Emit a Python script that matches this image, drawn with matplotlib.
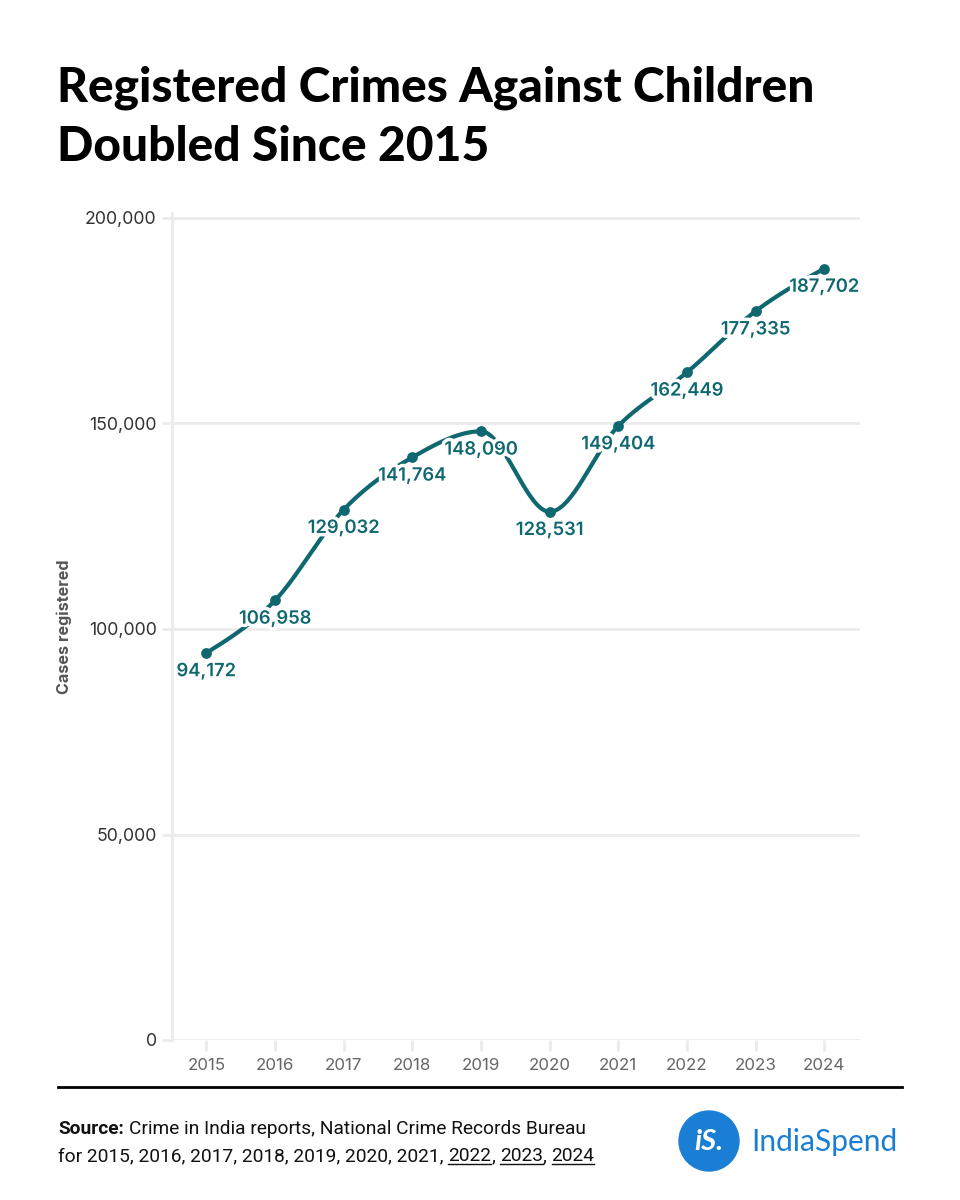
import numpy as np
import matplotlib
matplotlib.use("Agg")
import matplotlib.pyplot as plt
import matplotlib.patheffects as pe
from matplotlib.patches import Circle
from matplotlib.ticker import FuncFormatter

# data
years = [2015, 2016, 2017, 2018, 2019, 2020, 2021, 2022, 2023, 2024]
cases = [94172, 106958, 129032, 141764, 148090, 128531, 149404, 162449, 177335, 187702]
y_ticks = [0, 50000, 100000, 150000, 200000]

title_lines = ["Registered Crimes Against Children", "Doubled Since 2015"]
y_label = "Cases registered"
source_line1 = [("Source:", "bold", False), (" Crime in India reports, National Crime Records Bureau", "normal", False)]
source_line2 = [("for 2015, 2016, 2017, 2018, 2019, 2020, 2021, ", "normal", False),
                ("2022", "normal", True), (", ", "normal", False),
                ("2023", "normal", True), (", ", "normal", False),
                ("2024", "normal", True)]

TEAL = "#0f6870"
GRID = "#ebebeb"
BLUE = "#1a7fd4"


def monotone_curve(x, y, n=40):
    """monotone-x cubic (same idea as d3.curveMonotoneX) for drawing the line"""
    x = np.asarray(x, float)
    y = np.asarray(y, float)
    h = np.diff(x)
    s = np.diff(y) / h
    t = np.zeros_like(y)
    for i in range(1, len(y) - 1):
        p = (s[i - 1] * h[i] + s[i] * h[i - 1]) / (h[i - 1] + h[i])
        t[i] = (np.sign(s[i - 1]) + np.sign(s[i])) * min(abs(s[i - 1]), abs(s[i]), 0.5 * abs(p))
    t[0] = (3 * s[0] - t[1]) / 2
    t[-1] = (3 * s[-1] - t[-2]) / 2
    xs, ys = [], []
    for i in range(len(h)):
        u = np.linspace(0, 1, n)
        h00 = 2 * u**3 - 3 * u**2 + 1
        h10 = u**3 - 2 * u**2 + u
        h01 = -2 * u**3 + 3 * u**2
        h11 = u**3 - u**2
        xs.append(x[i] + u * h[i])
        ys.append(h00 * y[i] + h10 * h[i] * t[i] + h01 * y[i + 1] + h11 * h[i] * t[i + 1])
    return np.concatenate(xs), np.concatenate(ys)


fig = plt.figure(figsize=(9.6, 12), dpi=100)

# overlay in pixel units for the titles, rule, source and logo
deco = fig.add_axes([0, 0, 1, 1], zorder=0)
deco.set_xlim(0, 960)
deco.set_ylim(1200, 0)
deco.axis("off")

ax = fig.add_axes([172 / 960, 1 - 1040 / 1200, (860 - 172) / 960, (1040 - 213) / 1200], zorder=1)
ax.patch.set_alpha(0)

cx, cy = monotone_curve(years, cases)
ax.plot(cx, cy, color=TEAL, lw=3, solid_capstyle="round", zorder=3)
ax.scatter(years, cases, s=60, color=TEAL, zorder=4, linewidths=0)

for yr, v in zip(years, cases):
    ax.annotate(f"{v:,}", (yr, v), xytext=(0, -13.5), textcoords="offset points",
                ha="center", va="center", color=TEAL, fontsize=13.2,
                family="Inter", weight="semibold", zorder=5,
                path_effects=[pe.withStroke(linewidth=5, foreground="white")])

ax.set_xlim(2014.5, 2024.52)
ax.set_ylim(0, 200000 * (1040 - 213) / 822)
ax.set_yticks(y_ticks)
ax.yaxis.set_major_formatter(FuncFormatter(lambda v, p: f"{int(v):,}"))
ax.set_xticks(years)
ax.grid(axis="y", color=GRID, lw=2, zorder=0)
for side in ["top", "right", "bottom"]:
    ax.spines[side].set_visible(False)
ax.spines["left"].set_color(GRID)
ax.spines["left"].set_linewidth(2)
ax.tick_params(axis="y", length=7, width=2, color=GRID, pad=4, labelsize=12.8, labelcolor="#333333")
ax.tick_params(axis="x", length=8, width=2, color=GRID, pad=5, labelsize=12.2, labelcolor="#666666")
for lab in ax.get_yticklabels() + ax.get_xticklabels():
    lab.set_family("Inter")

deco.text(64, 627, y_label, rotation=90, ha="center", va="center", fontsize=11.6,
          weight="bold", color="#555555", family="Inter")

# title
for i, line in enumerate(title_lines):
    deco.text(57, 101 + 60 * i, line, ha="left", va="baseline", fontsize=34.5,
              weight="black", color="black", family="Lato")

# rule under the plot
deco.plot([58, 902], [1087, 1087], color="black", lw=2)

# source text, pieces placed one after the other
fig.canvas.draw()
renderer = fig.canvas.get_renderer()
src_font = dict(fontsize=13.8, color="#111111", family=["Roboto"])


def width_of(s, weight):
    t = deco.text(0, 0, s, weight=weight, **src_font)
    w = t.get_window_extent(renderer).width
    t.remove()
    return w


space = width_of("x x", "normal") - width_of("xx", "normal")


def place_line(pieces, y):
    x = 58
    for s, weight, under in pieces:
        lead = len(s) - len(s.lstrip(" "))
        trail = len(s) - len(s.rstrip(" "))
        x += lead * space
        core = s.strip(" ")
        deco.text(x, y, core, ha="left", va="baseline", weight=weight, **src_font)
        w = width_of(core, weight)
        if under:
            deco.plot([x, x + w], [y + 3, y + 3], color="#111111", lw=1)
        x += w + trail * space


place_line(source_line1, 1134)
place_line(source_line2, 1161)

# logo
deco.add_patch(Circle((709, 1141), 30, color=BLUE, zorder=2))
deco.text(709, 1142, "iS.", ha="center", va="center", color="white", fontsize=21,
          weight="bold", style="italic", family="Lato", zorder=3)
deco.text(751, 1142, "IndiaSpend", ha="left", va="center", color=BLUE, fontsize=21.5,
          weight="normal", family="Lato")

fig.savefig("out.png", dpi=100)
